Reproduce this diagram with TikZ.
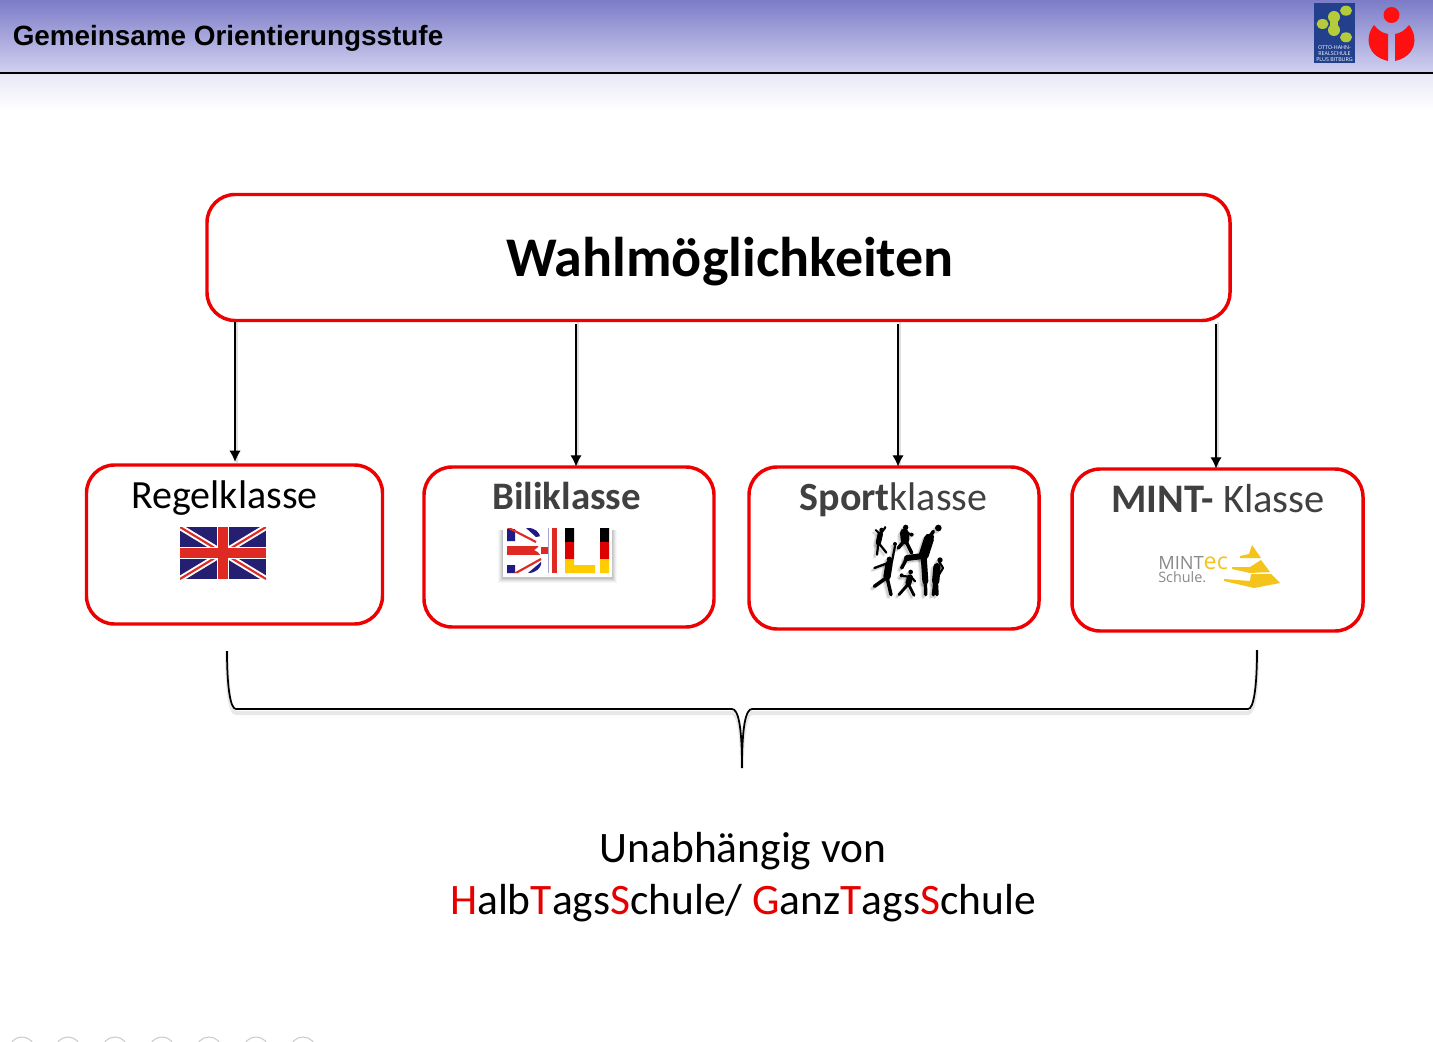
\documentclass[tikz,border=0pt]{standalone}
\usepackage{fontspec}
\setmainfont{Carlito}
\newfontfamily\headfont{Liberation Sans}
\newfontfamily\logofont{Open Sans}
\usetikzlibrary{arrows.meta,calc}
\definecolor{boxred}{HTML}{EE0000}
\definecolor{hiltred}{HTML}{E60000}
\definecolor{ihred}{HTML}{FF1010}
\definecolor{ink}{HTML}{404040}
\definecolor{ukred}{HTML}{DE2A22}
\definecolor{ukblue}{HTML}{241F70}
\definecolor{degold}{HTML}{FFCC00}
\definecolor{degred}{HTML}{DD0000}
\definecolor{mintgold}{HTML}{F4C41C}
\definecolor{mintgray}{HTML}{8A8A8A}
\definecolor{logoblue}{HTML}{22408C}
\definecolor{logogreen}{HTML}{B4CC3C}
\tikzset{
  choicebox/.style={draw=boxred,line width=2.6pt,rounded corners=21pt,fill=white,inner sep=0pt},
  smallcap/.style={anchor=center,font=\fontsize{30}{33}\selectfont,inner sep=0pt},
  flow/.style={draw=black,line width=1pt,-{Latex[length=8.5pt,width=8.5pt]}},
  flowshadow/.style={draw=gray,opacity=.25,line width=2pt},
  athlete/.style={line cap=round,line join=round},
}
\newcommand{\athletefigs}[1]{%
  \begin{scope}[draw=#1,fill=#1,athlete]
  % upper left
  \fill (50,36) circle (7); \fill (60,28) circle (4);
  \draw[line width=4pt] (46,48)--(40,74);
  \draw[line width=1.7pt] (40,74)--(36,110) (40,74)--(64,104);
  \draw[line width=1.5pt] (48,46)--(60,30) (42,46)--(32,36);
  % upper middle
  \fill (122,28) circle (8); \fill (140,50) circle (6);
  \draw[line width=6.5pt] (118,44)--(120,66);
  \draw[line width=2.6pt] (118,68)--(100,90) (122,68)--(140,105);
  \draw[line width=2pt] (120,42)--(138,50);
  % large jumper
  \fill (220,30) circle (10);
  \draw[line width=2.6pt] (205,40)--(192,60);
  \draw[line width=7.5pt] (192,62)--(176,112);
  \fill (198,56) circle (9);
  \draw[line width=4.5pt] (174,114)--(126,120);
  \draw[line width=2.6pt] (126,120)--(110,150);
  \draw[line width=4.5pt] (176,114)--(181,190);
  \draw[line width=2.6pt] (181,190)--(182,230);
  % right standing
  \fill (225,126) circle (8);
  \draw[line width=5.5pt] (216,146)--(212,190);
  \draw[line width=2.6pt] (210,192)--(205,230) (214,192)--(216,230);
  \draw[line width=1.6pt] (222,130)--(234,150)--(222,170);
  % lower left
  \fill (73,124) circle (8); \fill (90,78) circle (6);
  \draw[line width=1.7pt] (80,135)--(90,84) (66,136)--(28,150);
  \draw[line width=5.5pt] (72,138)--(66,176);
  \draw[line width=2.6pt] (66,178)--(28,205) (66,178)--(78,230);
  % lower centre
  \fill (137,162) circle (7); \fill (110,172) circle (6);
  \draw[line width=4.5pt] (135,178)--(130,196);
  \draw[line width=2.1pt] (130,198)--(102,230) (130,198)--(147,232);
  \draw[line width=1.7pt] (132,176)--(112,174) (138,176)--(150,190);
  \end{scope}}
\begin{document}
\begin{tikzpicture}[x=.75pt,y=-.75pt]
\useasboundingbox (0,0) rectangle (1433,1041);
\fill[white] (0,0) rectangle (1433,1041);
% header
\path[top color={rgb,255:red,124;green,124;blue,200},bottom color={rgb,255:red,208;green,208;blue,240}] (0,0) rectangle (1433,72);
\path[top color={rgb,255:red,232;green,232;blue,248},bottom color=white] (0,74) rectangle (1433,110);
\draw[black,line width=1.5pt] (0,73) -- (1433,73);
\node[anchor=west,inner sep=0pt,text=black,font=\headfont\bfseries\fontsize{20.9}{24}\selectfont] (head) at (12.5,38) {Gemeinsame Orientierungsstufe};
% school logo
\fill[logoblue] (1314,3) rectangle (1355,63);
\draw[logogreen,line width=6pt,line cap=round] (1334,17)--(1334,30);
\fill[logogreen] (1334,17) circle (6) (1334,30) circle (6) (1322.5,24) ellipse (6 and 5) (1346,10.7) ellipse (6 and 5) (1346,37.3) ellipse (6 and 5);
\node[inner sep=0pt,align=center,text=white,font=\logofont\fontsize{4}{4.6}\selectfont] (schoolname) at (1334.5,53.5) {OTTO-HAHN-\\REALSCHULE\\PLUS BITBURG};
% i logo
\fill[ihred] (1391.5,15) circle (8);
\fill[ihred] (1374,25) .. controls (1364,38) and (1367,56) .. (1388,61) -- (1388,34) .. controls (1382,33) and (1378,30) .. (1374,25) -- cycle;
\fill[ihred] (1409,25) .. controls (1419,38) and (1416,56) .. (1395,61) -- (1395,34) .. controls (1401,33) and (1405,30) .. (1409,25) -- cycle;
% boxes
\node[choicebox,minimum width=1023pt*.75,minimum height=126pt*.75] (wahl) at (718.5,257.5) {};
\node[inner sep=0pt,font=\bfseries\fontsize{42}{46}\selectfont] (wahltext) at (730,262) {Wahlmöglichkeiten};
\node[choicebox,minimum width=296pt*.75,minimum height=159pt*.75] (regel) at (234.5,544.5) {};
\node[choicebox,minimum width=290pt*.75,minimum height=160pt*.75] (bili) at (569,547) {};
\node[choicebox,minimum width=290pt*.75,minimum height=162pt*.75] (sport) at (894,548) {};
\node[choicebox,minimum width=291pt*.75,minimum height=162pt*.75] (mint) at (1217.5,550) {};
\node[smallcap] (regeltext) at (224.5,498.5) {Regelklasse};
\node[smallcap,text=ink,font=\bfseries\fontsize{29.2}{32}\selectfont] (bilitext) at (566.5,495.5) {Biliklasse};
\node[smallcap,text=ink] (sporttext) at (893.5,500) {\textbf{Sport}klasse};
\node[smallcap,text=ink,font=\fontsize{30.4}{33}\selectfont] (minttext) at (1218,499) {\textbf{MINT-} Klasse};
% arrows
\coordinate (c1) at (235,0); \coordinate (c2) at (576,0); \coordinate (c3) at (898,0); \coordinate (c4) at (1216,0);
\draw[flowshadow] ([xshift=1.5pt]c1 |- wahl.south) -- ([xshift=1.5pt]c1 |- regel.north);
\draw[flowshadow] ([xshift=1.5pt]c2 |- wahl.south) -- ([xshift=1.5pt]c2 |- bili.north);
\draw[flowshadow] ([xshift=1.5pt]c3 |- wahl.south) -- ([xshift=1.5pt]c3 |- sport.north);
\draw[flowshadow] ([xshift=1.5pt]c4 |- wahl.south) -- ([xshift=1.5pt]c4 |- mint.north);
\draw[flow] (c1 |- wahl.south) -- ([yshift=1pt]c1 |- regel.north);
\draw[flow] ([yshift=-1.5pt]c2 |- wahl.south) -- ([yshift=-1pt]c2 |- bili.north);
\draw[flow] ([yshift=-1.5pt]c3 |- wahl.south) -- ([yshift=-1pt]c3 |- sport.north);
\draw[flow] ([yshift=-1.5pt]c4 |- wahl.south) -- ([yshift=-1pt]c4 |- mint.north);
% UK flag
\begin{scope}
\clip (180,527) rectangle (266,579);
\fill[ukblue] (180,527) rectangle (266,579);
\draw[white,line width=4.5pt] (180,527)--(266,579) (180,579)--(266,527);
\draw[ukred,line width=1.6pt] (180,527)--(266,579) (180,579)--(266,527);
\draw[white,line width=9.4pt] (223,527)--(223,579) (180,553)--(266,553);
\draw[ukred,line width=8.2pt] (223,527)--(223,579) (180,553)--(266,553);
\end{scope}
% BILI tile
\foreach \g/\o in {5/.03,4/.04,3/.05,2/.06,1/.07}{
  \fill[black,opacity=\o] (503-\g,530) rectangle (612+\g,578+\g);
}
\fill[white] (503,525) rectangle (612,577);
\begin{scope}
\clip (507,528) -- (528,528) .. controls (543,528) and (544,546) .. (534,550) .. controls (546,554) and (544,573) .. (528,573) -- (507,573) -- cycle;
\fill[ukblue!85!blue] (507,529) rectangle (515,541) (507,565) rectangle (515,573);
\fill[ukblue!85!blue] (526,528) -- (541,528) -- (541,536) -- (536,537) -- cycle;
\fill[ukblue!85!blue] (528,573) -- (541,573) -- (541,562) -- cycle;
\draw[ukred,line width=1.6pt] (507,527)--(536,542) (514,574)--(541,559);
\fill[ukred] (507,546) rectangle (541,555);
\end{scope}
\fill[ukred] (552,528) rectangle (557,573);
\fill[ukblue!40!white] (548,528) rectangle (549,573);
\fill[ukred] (541,547) rectangle (548,554);
\fill[black] (565,528) rectangle (574,542) (600,528) rectangle (609,542);
\fill[degred] (565,542) rectangle (574,559) (600,542) rectangle (609,559);
\fill[degold] (565,559) rectangle (574,573) (574,565) rectangle (595,573) (600,559) rectangle (609,573);
% athletes
\begin{scope}[shift={(862,521)},x=.25pt,y=-.25pt,opacity=.08]
\athletefigs{black}
\end{scope}
\begin{scope}[shift={(863,520)},x=.25pt,y=-.25pt,opacity=.12]
\athletefigs{black}
\end{scope}
\begin{scope}[shift={(865,518)},x=.25pt,y=-.25pt]
\athletefigs{black}
\end{scope}
% MINT logo
\node[anchor=base west,inner sep=0pt,font=\logofont\fontsize{13.7}{14}\selectfont,text=mintgray] (minta) at (1158,569) {MINT\textcolor{mintgold}{\fontsize{17.4}{14}\selectfont ec}};
\node[anchor=base west,inner sep=0pt,font=\logofont\fontsize{10.8}{11}\selectfont,text=mintgray] (mintb) at (1158,582) {Schule.};
\fill[mintgold] (1252,545) -- (1261,558) -- (1240,558) -- (1240,556) -- (1249,554) -- cycle;
\fill[mintgold] (1261,560) -- (1270,572) -- (1250,573) -- (1232,569) -- (1232,567) -- (1250,567) -- cycle;
\fill[mintgold] (1271,574) -- (1280,583) -- (1254,588) -- (1224,581) -- (1224,579) -- (1250,581) -- (1251,574) -- cycle;
% brace
\coordinate (bl) at (227,651); \coordinate (bm) at (742,768); \coordinate (br) at (1257,650);
\draw[gray,opacity=.18,line width=3pt,yshift=-3pt] (bl) .. controls (227,685) and (230,709) .. (236,709) -- (732,709) .. controls (738,709) and (742,725) .. (bm) .. controls (742,725) and (746,709) .. (752,709) -- (1248,709) .. controls (1254,709) and (1257,685) .. (br);
\draw[black,line width=1.3pt] (bl) .. controls (227,685) and (230,709) .. (236,709) -- (732,709) .. controls (738,709) and (742,725) .. (bm) .. controls (742,725) and (746,709) .. (752,709) -- (1248,709) .. controls (1254,709) and (1257,685) .. (br);
% bottom text
\newcommand{\rd}[1]{\textcolor{hiltred}{#1}}
\node[inner sep=0pt,align=center,font=\fontsize{32.6}{39}\selectfont] (unab) at (743,877) {Unabhängig von\\\rd{H}alb\rd{T}ags\rd{S}chule/ \rd{G}anz\rd{T}ags\rd{S}chule};
% bottom arcs
\foreach \cx in {22,68,115,162,209,256,303}{
  \draw[gray!40,line width=.8pt] (\cx,1050) circle (13);
}
\end{tikzpicture}
\end{document}
